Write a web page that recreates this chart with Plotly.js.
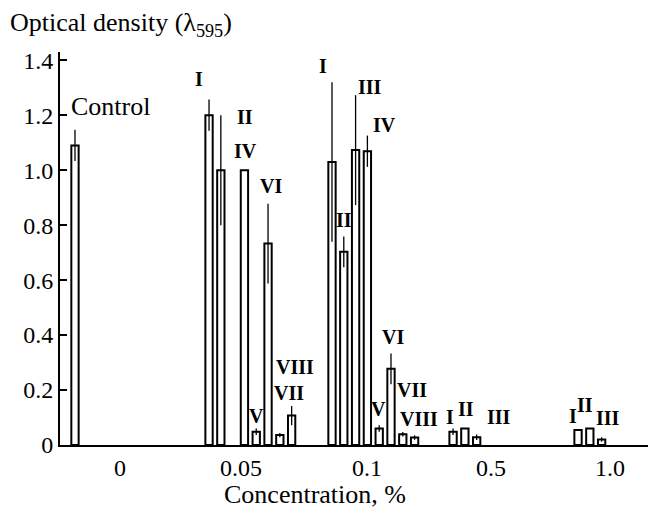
<!DOCTYPE html>
<html>
<head>
<meta charset="utf-8">
<script src="https://cdn.plot.ly/plotly-3.0.1.min.js"></script>
<style>html,body{margin:0;padding:0;background:#fff}#chart{width:650px;height:513px}</style>
</head>
<body>
<div id="chart"></div>
<script>
// ---------- data ----------
const concentrationTicks = ['0', '0.05', '0.1', '0.5', '1.0'];
const seriesNames = ['I', 'II', 'III', 'IV', 'V', 'VI', 'VII', 'VIII'];

const controlValue = [1.09];
const controlError = [0.057];

// optical density at 0.05 % (III absent)
const od005 = [1.20, 1.00, null, 1.00, 0.048, 0.733, 0.036, 0.107];
const err005 = [0.057, 0.20, null, 0, 0.012, 0.145, 0.008, 0.035];

// optical density at 0.1 %
const od01 = [1.03, 0.703, 1.073, 1.069, 0.060, 0.277, 0.039, 0.027];
const err01 = [0.29, 0.056, 0.20, 0.057, 0.012, 0.056, 0.008, 0.008];

// optical density at 0.5 % (I–III)
const od05 = [0.048, 0.060, 0.028];
const err05 = [0.012, 0, 0.010];

// optical density at 1.0 % (I–III)
const od10 = [0.055, 0.060, 0.020];
const err10 = [0, 0, 0.008];

const yTickVals = [0, 0.2, 0.4, 0.6, 0.8, 1.0, 1.2, 1.4];
const yTickText = ['0', '0.2', '0.4', '0.6', '0.8', '1.0', '1.2', '1.4'];

// ---------- layout helpers (positions on a slot axis) ----------
const controlX = 1.27;
const groupStart = [12.63, 23.05, 33.31, 43.9];
const tickPos = [5.08, 15.34, 26.02, 36.53, 46.61];
const groupValues = [od005, od01, od05, od10];
const groupErrors = [err005, err01, err05, err10];

const xs = [controlX], ys = [controlValue[0]], es = [controlError[0]];
groupValues.forEach((vals, g) => {
  vals.forEach((v, k) => {
    if (v === null) return;
    xs.push(groupStart[g] + k);
    ys.push(v);
    es.push(groupErrors[g][k]);
  });
});

const barTrace = {
  type: 'bar',
  x: xs,
  y: ys,
  width: xs.map(() => 0.62),
  marker: {color: '#ffffff', line: {color: '#000000', width: 2}},
  error_y: {type: 'data', array: es, visible: true, width: 0, thickness: 1.3, color: '#000000'},
  hoverinfo: 'skip',
  showlegend: false
};

// label placement: [text, x (slot units), y (data units)]
const labelPlacement = [
  ['I', 11.78, 1.331], ['II', 15.68, 1.193], ['IV', 15.68, 1.069], ['VI', 17.88, 0.942],
  ['V', 16.61, 0.105], ['VIII', 19.92, 0.284], ['VII', 19.41, 0.189],
  ['I', 22.29, 1.378], ['II', 24.07, 0.818], ['III', 26.27, 1.302], ['IV', 27.46, 1.164],
  ['V', 26.95, 0.131], ['VI', 28.22, 0.393], ['VII', 29.83, 0.200], ['VIII', 30.42, 0.095],
  ['I', 33.05, 0.102], ['II', 34.41, 0.131], ['III', 37.2, 0.102],
  ['I', 43.47, 0.105], ['II', 44.49, 0.145], ['III', 46.44, 0.098]
];

const serif = 'Liberation Serif';
const annotations = labelPlacement.map(([t, x, y]) => ({
  text: '<b>' + t + '</b>', x: x, y: y, xref: 'x', yref: 'y',
  showarrow: false, xanchor: 'center', yanchor: 'middle',
  font: {family: serif, size: 20, color: '#000'}
}));
annotations.push({
  text: 'Control', x: 4.32, y: 1.233, xref: 'x', yref: 'y', showarrow: false,
  xanchor: 'center', yanchor: 'middle', font: {family: serif, size: 26, color: '#000'}
});
annotations.push({
  text: 'Concentration, %', x: 0.434, y: -0.127, xref: 'paper', yref: 'paper', showarrow: false,
  xanchor: 'center', yanchor: 'middle', font: {family: serif, size: 26, color: '#000'}
});

const layout = {
  width: 650, height: 513,
  margin: {l: 60, r: 2, t: 52, b: 68},
  paper_bgcolor: '#fff', plot_bgcolor: '#fff',
  font: {family: serif, color: '#000'},
  title: {
    text: 'Optical density (λ<sub>595</sub>)',
    x: 10 / 650, xanchor: 'left', xref: 'container',
    y: 1 - 22 / 513, yanchor: 'middle', yref: 'container',
    font: {family: serif, size: 26, color: '#000'}
  },
  xaxis: {
    range: [0, 49.83], showgrid: false, zeroline: false,
    showline: true, linecolor: '#000', linewidth: 2,
    tickmode: 'array', tickvals: tickPos, ticktext: concentrationTicks,
    ticks: '', tickfont: {family: serif, size: 24, color: '#000'}
  },
  yaxis: {
    range: [0, 1.43], showgrid: false, zeroline: false,
    showline: true, linecolor: '#000', linewidth: 2,
    tickmode: 'array', tickvals: yTickVals, ticktext: yTickText,
    ticks: 'inside', ticklen: 7, tickwidth: 2, tickcolor: '#000',
    tickfont: {family: serif, size: 24, color: '#000'}
  },
  annotations: annotations
};

Plotly.newPlot('chart', [barTrace], layout, {displayModeBar: false, staticPlot: true});
</script>
</body>
</html>
